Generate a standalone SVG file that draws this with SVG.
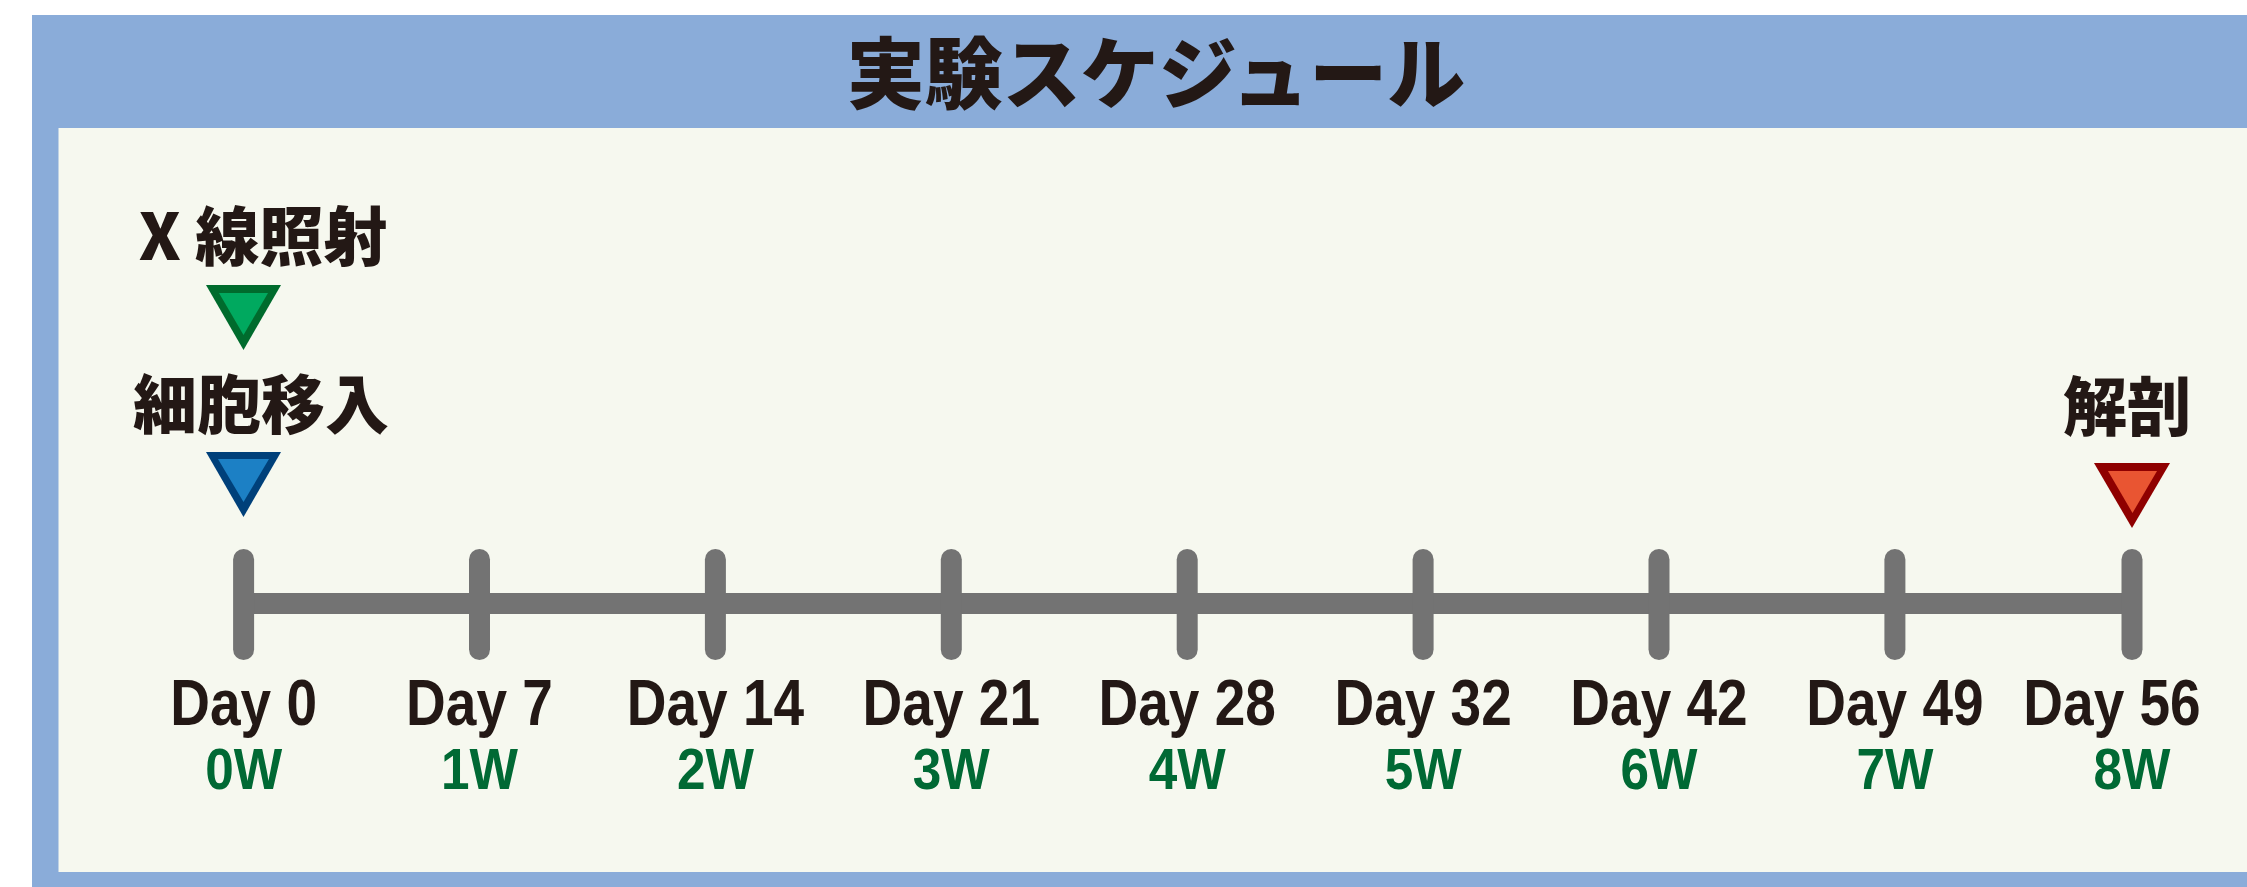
<svg xmlns="http://www.w3.org/2000/svg" width="2247" height="887" viewBox="0 0 2247 887">
<style>
.jp{font-family:"Noto Sans CJK JP","Noto Sans CJK SC",sans-serif;font-weight:900;fill:#231815;text-anchor:middle}
.day{font-family:"Liberation Sans",Arial,sans-serif;font-weight:bold;font-size:64px;fill:#231815;text-anchor:middle}
.wk{font-family:"Liberation Sans",Arial,sans-serif;font-weight:bold;font-size:57px;fill:#006934;text-anchor:middle}
.tick{stroke:#737373;stroke-width:21;stroke-linecap:round;fill:none}
.bar{stroke:#737373;stroke-width:21;stroke-linecap:butt;fill:none}
</style>
<rect id="frame" x="32" y="15" width="2215" height="872" fill="#8aacd9"/>
<rect id="panel" x="58.5" y="128" width="2188.5" height="744" fill="#f6f8ef"/>
<g id="title"><text class="jp" x="1156" y="103" font-size="78">実験スケジュール</text></g>

<g id="connectors">
<line class="bar" x1="243.6" y1="603.5" x2="2132" y2="603.5"/>
<line class="tick" x1="243.6" y1="559.5" x2="243.6" y2="649.5"/>
<line class="tick" x1="479.5" y1="559.5" x2="479.5" y2="649.5"/>
<line class="tick" x1="715.4" y1="559.5" x2="715.4" y2="649.5"/>
<line class="tick" x1="951.3" y1="559.5" x2="951.3" y2="649.5"/>
<line class="tick" x1="1187.2" y1="559.5" x2="1187.2" y2="649.5"/>
<line class="tick" x1="1423.1" y1="559.5" x2="1423.1" y2="649.5"/>
<line class="tick" x1="1659" y1="559.5" x2="1659" y2="649.5"/>
<line class="tick" x1="1894.9" y1="559.5" x2="1894.9" y2="649.5"/>
<line class="tick" x1="2132" y1="559.5" x2="2132" y2="649.5"/>
</g>

<g id="xray">
<text class="jp" x="263" y="260" font-size="64">X 線照射</text>
<polygon points="206,285 281,285 243.5,350" fill="#006b2d"/>
<polygon points="219,293 268,293 243.5,335" fill="#00a95f"/>
</g>
<g id="transplant">
<text class="jp" x="261" y="428" font-size="64">細胞移入</text>
<polygon points="206,452 281,452 243.5,517" fill="#00407a"/>
<polygon points="218,459 269,459 243.5,502" fill="#1c80c5"/>
</g>
<g id="dissection">
<text class="jp" x="2127" y="430" font-size="64">解剖</text>
<polygon points="2094,463 2170,463 2132,528" fill="#8f0000"/>
<polygon points="2108,471 2157,471 2132.5,513" fill="#e95532"/>
</g>

<g id="labels">
<text class="day" transform="translate(243.6 725) scale(0.86 1)">Day 0</text>
<text class="day" transform="translate(479.5 725) scale(0.86 1)">Day 7</text>
<text class="day" transform="translate(715.4 725) scale(0.86 1)">Day 14</text>
<text class="day" transform="translate(951.3 725) scale(0.86 1)">Day 21</text>
<text class="day" transform="translate(1187.2 725) scale(0.86 1)">Day 28</text>
<text class="day" transform="translate(1423.1 725) scale(0.86 1)">Day 32</text>
<text class="day" transform="translate(1659 725) scale(0.86 1)">Day 42</text>
<text class="day" transform="translate(1894.9 725) scale(0.86 1)">Day 49</text>
<text class="day" transform="translate(2112 725) scale(0.86 1)">Day 56</text>
<text class="wk" transform="translate(243.6 789) scale(0.9 1)">0W</text>
<text class="wk" transform="translate(479.5 789) scale(0.9 1)">1W</text>
<text class="wk" transform="translate(715.4 789) scale(0.9 1)">2W</text>
<text class="wk" transform="translate(951.3 789) scale(0.9 1)">3W</text>
<text class="wk" transform="translate(1187.2 789) scale(0.9 1)">4W</text>
<text class="wk" transform="translate(1423.1 789) scale(0.9 1)">5W</text>
<text class="wk" transform="translate(1659 789) scale(0.9 1)">6W</text>
<text class="wk" transform="translate(1894.9 789) scale(0.9 1)">7W</text>
<text class="wk" transform="translate(2132 789) scale(0.9 1)">8W</text>
</g>
</svg>
